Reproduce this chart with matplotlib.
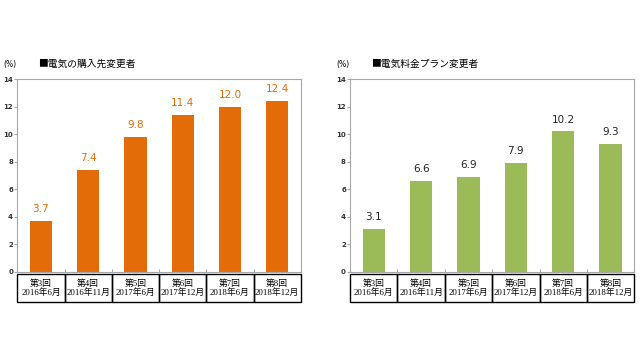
import matplotlib
matplotlib.use('Agg')
import matplotlib.pyplot as plt
from matplotlib.patches import Rectangle

plt.rcParams['font.family'] = ['DejaVu Sans', 'Noto Sans CJK JP']

rounds = ['第3回', '第4回', '第5回', '第6回', '第7回', '第8回']
dates_left = ['2016年6月', '2016年11月', '2017年6月', '2017年12月', '2018年6月', '2018年12月']
dates_right = ['2016年6月', '2016年11月', '2017年6月', '2017年12月', '2018年6月', '2018年12月']
supplier_change = [3.7, 7.4, 9.8, 11.4, 12.0, 12.4]
plan_change = [3.1, 6.6, 6.9, 7.9, 10.2, 9.3]
yticks = [0, 2, 4, 6, 8, 10, 12, 14]

ORANGE = '#E36C09'
GREEN = '#9BBB59'
SPINE = '#A6A6A6'
CELL_FONT = ['Liberation Serif', 'Noto Sans CJK JP']

fig = plt.figure(figsize=(6.4, 3.6), dpi=100)


def draw_panel(rect, values, dates, color, label_color, title):
    ax = fig.add_axes(rect)
    x = range(len(values))
    ax.bar(x, values, width=0.47, color=color, zorder=2)
    for xi, v in zip(x, values):
        ax.text(xi, v + 0.5, f'{v:.1f}', ha='center', va='bottom',
                fontsize=7.5, color=label_color)
    ax.set_xlim(-0.5, len(values) - 0.5)
    ax.set_ylim(0, 14)
    ax.set_yticks(yticks)
    ax.tick_params(axis='y', labelsize=5, length=2, color=SPINE, pad=1,
                   labelcolor='#333333')
    for lab in ax.get_yticklabels():
        lab.set_fontweight('bold')
    ax.set_xticks([i + 0.5 for i in range(-1, len(values))])
    ax.set_xticklabels([])
    ax.tick_params(axis='x', length=2, color=SPINE, direction='in')
    for s in ax.spines.values():
        s.set_color(SPINE)
        s.set_linewidth(0.8)
    # category table under the axis
    n = len(values)
    top, bottom = -0.012, -0.158
    for i in range(n):
        ax.add_patch(Rectangle((i / n, bottom), 1 / n, top - bottom,
                               transform=ax.transAxes, fill=False,
                               edgecolor='black', linewidth=1.0, clip_on=False))
        ax.text((i + 0.5) / n, (top + bottom) / 2, f'{rounds[i]}\n{dates[i]}',
                transform=ax.transAxes, ha='center', va='center',
                fontsize=6.3, family=CELL_FONT, linespacing=1.1)
    fig.text(rect[0] - 0.022, 0.822, '(%)', fontsize=5.5, ha='left', va='center')
    fig.text(rect[0] + 0.032, 0.822, title, fontsize=7, ha='left', va='center',
             family=['Noto Sans CJK JP', 'DejaVu Sans'])
    return ax


draw_panel([0.027, 0.245, 0.443, 0.535], supplier_change, dates_left,
           ORANGE, ORANGE, '■電気の購入先変更者')
draw_panel([0.547, 0.245, 0.444, 0.535], plan_change, dates_right,
           GREEN, '#222222', '■電気料金プラン変更者')

fig.savefig('out.png', dpi=100)
